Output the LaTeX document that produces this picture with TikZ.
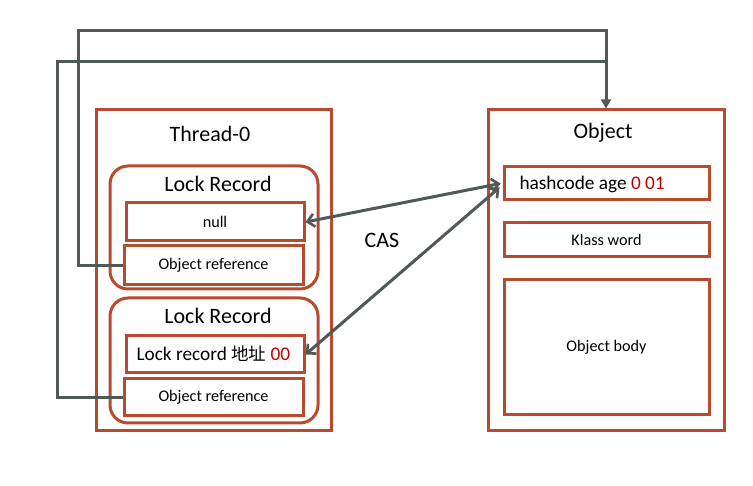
\documentclass[tikz,border=0pt]{standalone}
\usepackage{fontspec}
\setmainfont{Carlito}
\newfontfamily\cjk{Noto Sans CJK SC}
\usetikzlibrary{arrows.meta}
\definecolor{boxred}{RGB}{185,74,46}
\definecolor{linegray}{RGB}{80,88,88}
\definecolor{txtred}{RGB}{192,0,0}
\tikzset{
  box/.style={draw=boxred, line width=3pt, rectangle, inner sep=0pt, fill=white},
  rbox/.style={box, rounded corners=18pt},
  big/.style={font=\fontsize{22}{26}\selectfont},
  mid/.style={font=\fontsize{19.3}{23}\selectfont},
  small/.style={font=\fontsize{16.2}{19}\selectfont},
  conn/.style={draw=linegray, line width=3pt},
  cas/.style={conn, {Straight Barb[length=7pt,width=13pt,line width=2.6pt]}-{Straight Barb[length=7pt,width=13pt,line width=2.6pt]}},
  tip/.style={-{Triangle[length=9pt,width=10pt]}}
}
\begin{document}
\begin{tikzpicture}[x=1pt,y=-1pt]
\path[fill=white] (0,0) rectangle (753,486);
\useasboundingbox (0,0) rectangle (753,486);
% Thread side
\node[box, minimum width=235pt, minimum height=321pt] (thread) at (213.5,270.5) {};
\node[big] (threadt) at (210,134) {Thread-0};
\node[rbox, minimum width=208pt, minimum height=123pt] (lr1) at (214,227.5) {};
\node[big] (lr1t) at (218,184) {Lock Record};
\node[box, small, minimum width=178pt, minimum height=38pt] (null) at (215,222) {null};
\node[box, small, minimum width=179pt, minimum height=39pt] (ref1) at (213.5,265.5) {Object reference};
\node[rbox, minimum width=208pt, minimum height=125pt] (lr2) at (214,360.5) {};
\node[big] (lr2t) at (218,316) {Lock Record};
\node[box, minimum width=178pt, minimum height=37pt] (lrec) at (215,354.5) {};
\node[mid, anchor=west] (lrect) at (133,354) {Lock record {\cjk\fontsize{17.5}{22}\selectfont 地址} \textcolor{txtred}{00}};
\node[box, small, minimum width=179pt, minimum height=37pt] (ref2) at (213.5,397.5) {Object reference};
% Object side
\node[box, minimum width=236pt, minimum height=321pt] (obj) at (606,270.5) {};
\node[big] (objt) at (603,133) {Object};
\node[box, minimum width=205pt, minimum height=33pt] (hash) at (606.5,183.5) {};
\node[mid, anchor=west] (hasht) at (516,184) {hashcode age \textcolor{txtred}{0 01}};
\node[box, small, minimum width=205pt, minimum height=34pt] (klass) at (606.5,240) {Klass word};
\node[box, small, minimum width=205pt, minimum height=135pt] (body) at (606.5,347.5) {Object body};
% CAS
\node[big] (castext) at (382,240) {CAS};
\draw[cas] (null.east) -- ([xshift=-2pt]hash.west);
\draw[cas] (lrec.east) -- ([xshift=-3pt,yshift=-4pt]hash.west);
% references
\coordinate (c1) at (78,31);
\coordinate (c2) at (57,62);
\coordinate (j2) at (obj.north |- c2);
\draw[conn, tip] (ref1.west) -| (c1) -| (obj.north);
\draw[conn] (ref2.west) -| (c2) -- (j2);
\end{tikzpicture}
\end{document}
